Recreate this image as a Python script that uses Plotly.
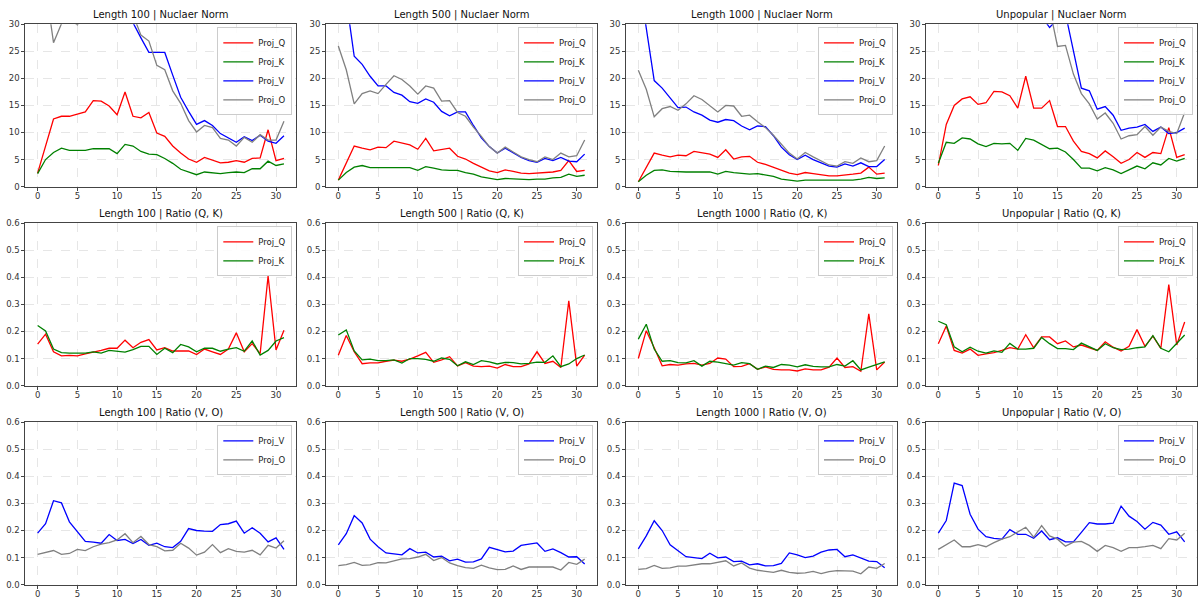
import plotly.graph_objects as go

W, H = 1198, 598
LAYERS = list(range(32))

# ---------------- Row 1: Nuclear norm ----------------
L100_NORM_Q = [2.5, 7.5, 12.5, 13.0, 13.0, 13.4, 13.8, 15.9, 15.8, 14.9, 13.3, 17.5, 13.0, 12.7, 13.7, 9.9,
               9.3, 7.5, 6.2, 5.1, 4.5, 5.4, 4.9, 4.4, 4.5, 4.8, 4.5, 5.2, 5.3, 10.5, 4.8, 5.2]
L100_NORM_K = [2.4, 5.0, 6.3, 7.1, 6.7, 6.7, 6.7, 7.0, 7.0, 7.0, 6.1, 7.8, 7.5, 6.5, 6.0, 5.9,
               5.2, 4.3, 3.2, 2.7, 2.2, 2.7, 2.5, 2.4, 2.6, 2.7, 2.6, 3.3, 3.3, 4.7, 3.9, 4.2]
L100_NORM_V = [48.0, 50.0, 46.0, 44.0, 42.0, 41.0, 40.0, 39.0, 38.0, 37.0, 36.5, 36.0, 30.3, 27.5, 24.8, 24.8,
               24.8, 20.6, 16.5, 13.9, 11.5, 12.2, 11.3, 9.8, 9.0, 8.2, 9.2, 8.5, 9.5, 8.4, 8.0, 9.4]
L100_NORM_O = [45.0, 37.0, 26.6, 30.1, 31.0, 29.9, 32.0, 34.0, 35.0, 34.0, 33.0, 33.0, 31.8, 28.0, 26.9, 22.4,
               21.6, 17.7, 15.4, 12.2, 10.1, 11.3, 10.9, 8.9, 8.6, 7.5, 9.1, 8.2, 9.6, 8.6, 8.6, 12.1]

L500_NORM_Q = [1.2, 4.2, 7.5, 7.1, 6.8, 7.3, 7.2, 8.4, 8.1, 7.7, 6.9, 8.9, 6.6, 6.9, 7.1, 5.6,
               5.1, 4.3, 3.6, 2.9, 2.6, 3.1, 2.8, 2.5, 2.4, 2.5, 2.5, 2.7, 3.0, 4.8, 2.8, 3.0]
L500_NORM_K = [1.2, 2.6, 3.6, 3.9, 3.5, 3.5, 3.4, 3.5, 3.5, 3.5, 3.0, 3.7, 3.4, 3.1, 3.0, 3.0,
               2.6, 2.3, 1.8, 1.5, 1.3, 1.5, 1.4, 1.3, 1.3, 1.4, 1.4, 1.6, 1.7, 2.3, 1.9, 2.1]
L500_NORM_V = [45.0, 34.3, 24.1, 22.6, 20.4, 18.6, 18.6, 17.4, 16.9, 15.7, 15.4, 16.2, 15.6, 13.9, 13.1, 13.8,
               13.8, 11.3, 9.0, 7.4, 6.2, 7.1, 6.2, 5.4, 4.8, 4.5, 5.2, 4.8, 5.4, 4.7, 4.6, 6.0]
L500_NORM_O = [26.0, 21.6, 15.3, 17.2, 17.7, 17.2, 18.9, 20.5, 19.8, 18.6, 17.1, 18.6, 18.2, 15.8, 15.9, 13.7,
               13.0, 11.0, 9.3, 7.4, 6.2, 7.3, 6.4, 5.5, 5.0, 4.6, 5.5, 5.0, 6.2, 5.5, 5.7, 8.6]

L1000_NORM_Q = [0.9, 3.5, 6.2, 5.8, 5.5, 5.8, 5.7, 6.5, 6.3, 6.0, 5.4, 6.8, 5.1, 5.5, 5.6, 4.5,
                4.1, 3.6, 3.1, 2.5, 2.2, 2.6, 2.4, 2.2, 2.0, 2.0, 2.1, 2.3, 2.5, 3.6, 2.3, 2.5]
L1000_NORM_K = [0.9, 2.1, 3.0, 3.1, 2.8, 2.7, 2.7, 2.7, 2.7, 2.7, 2.3, 2.8, 2.6, 2.4, 2.3, 2.4,
                2.1, 1.9, 1.4, 1.2, 1.0, 1.2, 1.2, 1.1, 1.1, 1.1, 1.1, 1.2, 1.4, 1.7, 1.5, 1.6]
L1000_NORM_V = [39.0, 29.2, 19.6, 18.2, 16.4, 14.6, 14.7, 13.8, 13.2, 12.3, 11.9, 12.4, 12.2, 11.2, 10.5, 11.2,
                11.1, 9.4, 7.3, 5.9, 5.0, 5.8, 5.0, 4.4, 3.8, 3.6, 4.2, 3.8, 4.4, 3.7, 3.7, 5.0]
L1000_NORM_O = [21.5, 18.0, 12.9, 14.4, 14.8, 14.1, 15.3, 16.8, 16.1, 15.0, 13.8, 15.0, 14.9, 13.0, 13.2, 12.0,
                10.9, 9.5, 7.8, 6.2, 5.1, 6.3, 5.5, 4.7, 4.0, 3.8, 4.6, 4.3, 5.3, 4.6, 4.8, 7.5]

UNPOP_NORM_Q = [3.9, 11.5, 15.0, 16.2, 16.6, 15.2, 15.5, 17.6, 17.5, 16.8, 14.5, 20.4, 14.5, 14.5, 15.9, 11.1,
                11.1, 8.4, 6.5, 6.1, 5.3, 6.6, 5.5, 4.3, 5.0, 6.3, 5.4, 6.3, 6.1, 10.9, 5.4, 5.9]
UNPOP_NORM_K = [4.3, 8.2, 8.0, 9.0, 8.8, 7.9, 7.4, 8.0, 7.9, 8.0, 6.7, 8.9, 8.6, 7.8, 7.0, 7.1,
                6.4, 5.0, 3.4, 3.4, 2.9, 3.5, 3.1, 2.4, 3.1, 3.8, 3.3, 4.4, 4.0, 5.2, 4.7, 5.2]
UNPOP_NORM_V = [60.0, 62.0, 58.0, 55.0, 52.0, 50.0, 48.0, 46.0, 44.0, 42.0, 40.0, 38.0, 35.0, 31.5, 29.4, 31.0,
                32.0, 25.0, 18.2, 17.7, 14.3, 14.8, 13.2, 10.4, 10.8, 11.0, 11.5, 10.2, 11.0, 9.8, 10.0, 10.8]
UNPOP_NORM_O = [58.0, 60.0, 56.0, 54.0, 50.0, 48.0, 46.0, 44.0, 42.0, 40.0, 38.0, 36.0, 35.0, 34.0, 33.0, 25.9,
                26.1, 20.8, 17.2, 15.3, 12.5, 13.6, 11.7, 8.8, 9.4, 9.6, 11.1, 9.5, 11.0, 10.2, 9.8, 13.7]

# ---------------- Row 2: Ratio (Q, K) ----------------
L100_RATIO_Q = [0.153, 0.19, 0.125, 0.11, 0.112, 0.11, 0.117, 0.123, 0.13, 0.138, 0.138, 0.168, 0.14, 0.16, 0.17, 0.132,
                0.14, 0.128, 0.128, 0.128, 0.115, 0.135, 0.125, 0.115, 0.135, 0.195, 0.125, 0.155, 0.118, 0.405, 0.132, 0.205]
L100_RATIO_K = [0.222, 0.202, 0.135, 0.122, 0.12, 0.12, 0.12, 0.125, 0.12, 0.13, 0.127, 0.124, 0.133, 0.145, 0.145, 0.115,
                0.138, 0.122, 0.152, 0.143, 0.125, 0.138, 0.138, 0.127, 0.135, 0.14, 0.127, 0.165, 0.113, 0.13, 0.165, 0.177]
L500_RATIO_Q = [0.112, 0.185, 0.125, 0.081, 0.084, 0.084, 0.09, 0.094, 0.09, 0.098, 0.11, 0.123, 0.086, 0.095, 0.107, 0.073,
                0.085, 0.072, 0.07, 0.072, 0.065, 0.078, 0.07, 0.07, 0.08, 0.125, 0.082, 0.09, 0.067, 0.313, 0.072, 0.113]
L500_RATIO_K = [0.187, 0.206, 0.128, 0.095, 0.098, 0.092, 0.092, 0.095, 0.083, 0.1, 0.1, 0.097, 0.09, 0.102, 0.097, 0.073,
                0.088, 0.078, 0.092, 0.088, 0.08, 0.086, 0.085, 0.08, 0.082, 0.087, 0.086, 0.11, 0.07, 0.08, 0.1, 0.113]
L1000_RATIO_Q = [0.1, 0.203, 0.14, 0.073, 0.078, 0.076, 0.08, 0.082, 0.076, 0.082, 0.102, 0.098, 0.07, 0.071, 0.081, 0.06,
                 0.069, 0.06, 0.058, 0.058, 0.054, 0.062, 0.058, 0.058, 0.068, 0.102, 0.067, 0.07, 0.053, 0.265, 0.058, 0.087]
L1000_RATIO_K = [0.172, 0.227, 0.135, 0.09, 0.092, 0.085, 0.084, 0.092, 0.072, 0.09, 0.087, 0.082, 0.076, 0.085, 0.081, 0.06,
                 0.072, 0.067, 0.078, 0.076, 0.069, 0.077, 0.071, 0.069, 0.069, 0.078, 0.072, 0.092, 0.058, 0.068, 0.078, 0.088]
UNPOP_RATIO_Q = [0.155, 0.22, 0.13, 0.12, 0.135, 0.112, 0.117, 0.122, 0.13, 0.14, 0.135, 0.188, 0.14, 0.18, 0.18, 0.155,
                 0.165, 0.143, 0.15, 0.14, 0.13, 0.162, 0.142, 0.128, 0.145, 0.207, 0.145, 0.183, 0.138, 0.373, 0.15, 0.235]
UNPOP_RATIO_K = [0.238, 0.225, 0.143, 0.125, 0.142, 0.127, 0.12, 0.128, 0.123, 0.156, 0.135, 0.135, 0.138, 0.178, 0.155, 0.137,
                 0.137, 0.133, 0.157, 0.145, 0.13, 0.155, 0.14, 0.133, 0.135, 0.14, 0.143, 0.185, 0.138, 0.125, 0.155, 0.187]

# ---------------- Row 3: Ratio (V, O) ----------------
L100_RATIO_V = [0.19, 0.225, 0.31, 0.302, 0.232, 0.195, 0.16, 0.157, 0.153, 0.185, 0.163, 0.167, 0.152, 0.167, 0.145, 0.153,
                0.14, 0.137, 0.16, 0.207, 0.2, 0.198, 0.197, 0.222, 0.225, 0.235, 0.19, 0.21, 0.19, 0.158, 0.173, 0.13]
L100_RATIO_O = [0.112, 0.118, 0.126, 0.112, 0.115, 0.13, 0.126, 0.14, 0.15, 0.155, 0.165, 0.188, 0.155, 0.178, 0.148, 0.14,
                0.125, 0.127, 0.153, 0.135, 0.109, 0.12, 0.148, 0.118, 0.133, 0.123, 0.12, 0.127, 0.11, 0.145, 0.135, 0.162]
L500_RATIO_V = [0.147, 0.188, 0.255, 0.228, 0.168, 0.14, 0.117, 0.114, 0.11, 0.133, 0.117, 0.12, 0.102, 0.105, 0.088, 0.094,
                0.083, 0.084, 0.095, 0.138, 0.13, 0.121, 0.124, 0.145, 0.15, 0.154, 0.123, 0.132, 0.118, 0.102, 0.103, 0.076]
L500_RATIO_O = [0.07, 0.074, 0.082, 0.071, 0.073, 0.081, 0.08, 0.087, 0.095, 0.096, 0.102, 0.112, 0.089, 0.1, 0.08, 0.07,
                0.063, 0.06, 0.072, 0.062, 0.055, 0.056, 0.069, 0.056, 0.065, 0.065, 0.064, 0.065, 0.054, 0.082, 0.075, 0.094]
L1000_RATIO_V = [0.132, 0.18, 0.236, 0.2, 0.147, 0.125, 0.103, 0.1, 0.096, 0.116, 0.099, 0.102, 0.085, 0.087, 0.073, 0.077,
                 0.069, 0.07, 0.078, 0.117, 0.11, 0.1, 0.105, 0.12, 0.128, 0.13, 0.103, 0.11, 0.097, 0.087, 0.085, 0.062]
L1000_RATIO_O = [0.056, 0.059, 0.071, 0.06, 0.062, 0.068, 0.068, 0.072, 0.077, 0.077, 0.082, 0.088, 0.069, 0.08, 0.061, 0.053,
                 0.049, 0.045, 0.053, 0.045, 0.042, 0.043, 0.049, 0.041, 0.048, 0.052, 0.051, 0.05, 0.04, 0.065, 0.06, 0.078]
UNPOP_RATIO_V = [0.19, 0.237, 0.375, 0.366, 0.26, 0.205, 0.177, 0.171, 0.168, 0.203, 0.186, 0.186, 0.171, 0.198, 0.166, 0.173,
                 0.158, 0.158, 0.193, 0.229, 0.224, 0.224, 0.227, 0.29, 0.253, 0.233, 0.205, 0.23, 0.22, 0.186, 0.195, 0.158]
UNPOP_RATIO_O = [0.13, 0.148, 0.165, 0.14, 0.14, 0.148, 0.14, 0.155, 0.168, 0.177, 0.195, 0.212, 0.175, 0.218, 0.18, 0.168,
                 0.142, 0.157, 0.16, 0.145, 0.123, 0.145, 0.137, 0.123, 0.137, 0.137, 0.14, 0.145, 0.133, 0.17, 0.165, 0.19]

DATASETS = ["Length 100", "Length 500", "Length 1000", "Unpopular"]
METRICS = ["Nuclaer Norm", "Ratio (Q, K)", "Ratio (V, O)"]
X_TICKS = [0, 5, 10, 15, 20, 25, 30]
NORM_TICKS = [0, 5, 10, 15, 20, 25, 30]
RATIO_TICKS = [0.0, 0.1, 0.2, 0.3, 0.4, 0.5, 0.6]

PANELS = [
    [[("Proj_Q", L100_NORM_Q), ("Proj_K", L100_NORM_K), ("Proj_V", L100_NORM_V), ("Proj_O", L100_NORM_O)],
     [("Proj_Q", L500_NORM_Q), ("Proj_K", L500_NORM_K), ("Proj_V", L500_NORM_V), ("Proj_O", L500_NORM_O)],
     [("Proj_Q", L1000_NORM_Q), ("Proj_K", L1000_NORM_K), ("Proj_V", L1000_NORM_V), ("Proj_O", L1000_NORM_O)],
     [("Proj_Q", UNPOP_NORM_Q), ("Proj_K", UNPOP_NORM_K), ("Proj_V", UNPOP_NORM_V), ("Proj_O", UNPOP_NORM_O)]],
    [[("Proj_Q", L100_RATIO_Q), ("Proj_K", L100_RATIO_K)],
     [("Proj_Q", L500_RATIO_Q), ("Proj_K", L500_RATIO_K)],
     [("Proj_Q", L1000_RATIO_Q), ("Proj_K", L1000_RATIO_K)],
     [("Proj_Q", UNPOP_RATIO_Q), ("Proj_K", UNPOP_RATIO_K)]],
    [[("Proj_V", L100_RATIO_V), ("Proj_O", L100_RATIO_O)],
     [("Proj_V", L500_RATIO_V), ("Proj_O", L500_RATIO_O)],
     [("Proj_V", L1000_RATIO_V), ("Proj_O", L1000_RATIO_O)],
     [("Proj_V", UNPOP_RATIO_V), ("Proj_O", UNPOP_RATIO_O)]],
]

# ---------------- styling ----------------
COLORS = {"Proj_Q": "#ff0000", "Proj_K": "#008000", "Proj_V": "#0000ff", "Proj_O": "#808080"}
FONT = "DejaVu Sans"
COL_LEFT = [25.3, 326.0, 626.0, 926.0]
PANEL_W = 271.0
ROW_TOP = [24.3, 223.3, 422.3]
PANEL_H = 162.3

fig = go.Figure()
layout = dict(
    width=W, height=H, margin=dict(l=0, r=0, t=0, b=0, autoexpand=False),
    paper_bgcolor="white", plot_bgcolor="white",
    font=dict(family=FONT, size=9, color="#222"),
    showlegend=True, annotations=[],
)

idx = 0
for r in range(3):
    for c in range(4):
        idx += 1
        sfx = "" if idx == 1 else str(idx)
        leg = "legend" + sfx
        L = COL_LEFT[c]
        R = L + PANEL_W
        T = ROW_TOP[r]
        B = T + PANEL_H
        for name, vals in PANELS[r][c]:
            fig.add_trace(go.Scatter(
                x=LAYERS, y=vals, mode="lines", name=name,
                line=dict(color=COLORS[name], width=1.3),
                xaxis="x" + sfx, yaxis="y" + sfx, legend=leg,
                cliponaxis=True,
            ))
        axis_common = dict(
            showline=True, mirror=True, linecolor="#444", linewidth=0.8,
            ticks="outside", ticklen=3, tickwidth=0.8, tickcolor="#444",
            showgrid=True, gridcolor="#e6e6e6", gridwidth=0.6, griddash="dash",
            zeroline=False, automargin=False,
            tickfont=dict(family=FONT, size=8.5, color="#333"),
        )
        layout["xaxis" + sfx] = dict(
            axis_common, domain=[L / W, R / W], range=[-1.55, 32.55],
            tickvals=X_TICKS, anchor="y" + sfx, ticklabelstandoff=-2,
        )
        if r == 0:
            ycfg = dict(range=[0, 30], tickvals=NORM_TICKS)
        else:
            ycfg = dict(range=[0, 0.6], tickvals=RATIO_TICKS, tickformat=".1f")
        layout["yaxis" + sfx] = dict(
            axis_common, domain=[1 - B / H, 1 - T / H], anchor="x" + sfx, **ycfg,
        )
        layout[leg] = dict(
            x=(R - 4) / W, y=1 - (T + 3) / H, xanchor="right", yanchor="top",
            bgcolor="rgba(255,255,255,0.85)", bordercolor="#cccccc", borderwidth=1,
            font=dict(family=FONT, size=8.5, color="#222"),
            tracegroupgap=0, itemwidth=30,
        )
        layout["annotations"].append(dict(
            text=f"{DATASETS[c]} | {METRICS[r]}", xref="paper", yref="paper",
            x=(L + R) / 2 / W, y=1 - (T - 1) / H, xanchor="center", yanchor="bottom",
            showarrow=False, font=dict(family=FONT, size=10, color="#111"),
        ))

fig.update_layout(**layout)
fig.write_html(
    "out.html",
    config={"displayModeBar": False},
    post_script="document.body.style.margin='0';document.body.style.overflow='hidden';",
)
